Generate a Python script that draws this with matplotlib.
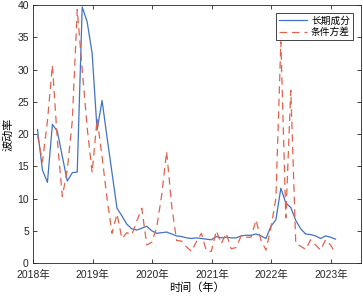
import numpy as np
import matplotlib
matplotlib.use("Agg")
import matplotlib.pyplot as plt

plt.rcParams['font.family'] = ['Liberation Sans', 'Noto Sans CJK SC']

# monthly data, Jan 2018 .. Jan 2023
start_year = 2018
n_months = 61
long_term = [20.7, 14.4, 12.5, 21.5, 20.4, 16.5, 12.7, 14.0, 14.1, 39.7, 37.4, 32.5,
             20.6, 25.2, 19.5, 14.0, 8.5, 7.3, 6.0, 5.3, 5.1, 5.4, 5.7, 5.0,
             4.6, 4.7, 4.8, 4.5, 4.2, 4.1, 3.9, 3.8, 3.9, 3.8, 3.7, 3.6,
             4.1, 3.9, 4.0, 3.9, 3.9, 4.2, 4.3, 4.3, 4.5, 4.2, 3.8, 5.7,
             6.7, 11.6, 9.3, 8.6, 6.6, 5.3, 4.5, 4.4, 4.2, 3.8, 4.2, 4.0,
             3.7]
cond_var = [19.8, 15.7, 22.0, 30.7, 19.0, 10.3, 14.5, 22.0, 39.3, 30.0, 21.0, 14.0,
            22.4, 16.5, 10.0, 4.6, 7.6, 3.8, 4.7, 4.4, 6.5, 8.5, 2.8, 3.2,
            5.5, 10.5, 17.3, 9.0, 3.5, 3.4, 2.5, 1.8, 3.3, 4.6, 1.9, 1.8,
            5.0, 3.0, 4.6, 2.2, 2.4, 4.2, 4.0, 4.0, 6.7, 3.5, 2.0, 5.5,
            10.0, 34.3, 7.0, 26.8, 3.0, 2.6, 2.1, 3.6, 2.8, 2.0, 3.6, 2.8,
            1.5]
year_ticks = [2018, 2019, 2020, 2021, 2022, 2023]
year_labels = ['%d年' % y for y in year_ticks]
y_ticks = [0, 5, 10, 15, 20, 25, 30, 35, 40]

t = start_year + (np.arange(n_months) + 0.9) / 12.0

fig = plt.figure(figsize=(3.63, 2.97), dpi=100)
ax = fig.add_axes([0.091, 0.1145, 0.903, 0.8685])
ax.plot(t, long_term, color='#4272c4', lw=0.9, label='长期成分')
ax.plot(t, cond_var, color='#e2634c', lw=0.9, ls=(0, (6, 4)), label='条件方差')

ax.set_xlim(2018, 2023.5)
ax.set_ylim(0, 40)
ax.set_xticks(year_ticks)
ax.set_xticklabels(year_labels)
ax.set_yticks(y_ticks)
ax.tick_params(direction='in', top=True, right=True, labelsize=7.5, length=3,
               width=0.6, colors='#262626')
ax.tick_params(axis='x', pad=5)
ax.tick_params(axis='y', pad=3)
for s in ax.spines.values():
    s.set_color('#262626')
    s.set_linewidth(0.6)
ax.set_xlabel('时间（年）', fontsize=8, family=['Noto Sans CJK SC'], labelpad=2)
ax.set_ylabel('波动率', fontsize=8, family=['Noto Sans CJK SC'], labelpad=3)
leg = ax.legend(loc='upper right', fancybox=False, framealpha=1,
                edgecolor='#262626', handlelength=2.9, borderpad=0.3,
                labelspacing=0.15, borderaxespad=0.8, handletextpad=0.4,
                prop={'family': ['Noto Sans CJK SC'], 'size': 7})
leg.get_frame().set_linewidth(0.6)

fig.savefig('out.png', dpi=100)
